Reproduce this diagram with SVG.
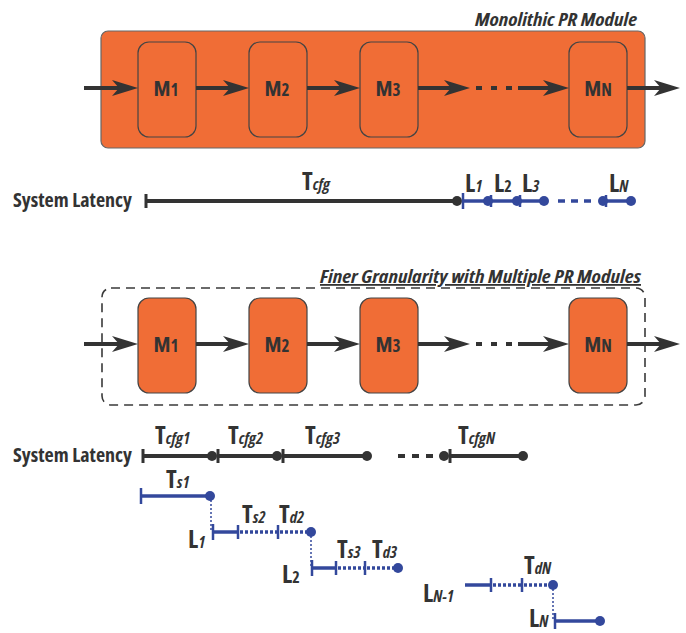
<svg xmlns="http://www.w3.org/2000/svg" width="686" height="633" viewBox="0 0 686 633">
  <style>
    text { font-family: "Open Sans", "Liberation Sans", sans-serif; font-weight: bold; fill: #333333; font-stretch: condensed; }
    .title { font-size: 18px; font-style: italic; }
    .sys { font-size: 20px; }
    .big { font-size: 25px; }
    .sub { font-size: 16px; font-style: italic; }
    .subu { font-size: 16px; font-style: normal; }
    .mod { font-size: 22px; font-stretch: semi-condensed; }
    .modsub { font-size: 17px; }
    .pr { fill: #F06D36; stroke: #444444; stroke-width: 1.2; }
    .frame { fill: #F06D36; stroke: #666666; stroke-width: 1.2; }
    .dash { fill: none; stroke: #3a3a3a; stroke-width: 1.6; stroke-dasharray: 9 6; }
    .flow { stroke: #333333; stroke-width: 4.2; fill: none; }
    .flowdash { stroke: #333333; stroke-width: 4.2; stroke-dasharray: 6 9; fill: none; }
    .blk { stroke: #333333; stroke-width: 4; fill: none; }
    .blkdash { stroke: #333333; stroke-width: 4; stroke-dasharray: 7 7; fill: none; }
    .tick { stroke: #333333; stroke-width: 3; }
    .dot { fill: #333333; }
    .bl { stroke: #33489C; stroke-width: 3.5; fill: none; }
    .bldot { stroke: #33489C; stroke-width: 3.5; stroke-dasharray: 3 2; fill: none; }
    .bldash { stroke: #33489C; stroke-width: 3.5; stroke-dasharray: 7 6; fill: none; }
    .blv { stroke: #33489C; stroke-width: 1.5; stroke-dasharray: 2 2; fill: none; }
    .btick { stroke: #33489C; stroke-width: 2.5; }
    .bdot { fill: #33489C; }
  </style>
  <defs>
    <marker id="head" viewBox="0 0 26 16" refX="14" refY="8" markerWidth="26" markerHeight="16" markerUnits="userSpaceOnUse" orient="auto">
      <path d="M0,0 L26,8 L0,16 L7,8 Z" fill="#333333"/>
    </marker>
  </defs>

  <!-- Monolithic PR module -->
  <g id="monolithic">
    <rect class="frame" x="101" y="31" width="544" height="117" rx="7"/>
    <text class="title" x="637" y="26" text-anchor="end" textLength="162" lengthAdjust="spacingAndGlyphs">Monolithic PR Module</text>
  </g>
  <g id="top-m1"><rect class="pr" x="138" y="42" width="58" height="95" rx="11"/><text class="mod" x="166" y="96" text-anchor="middle">M<tspan class="modsub">1</tspan></text></g>
  <g id="top-m2"><rect class="pr" x="249" y="42" width="58" height="95" rx="11"/><text class="mod" x="277" y="96" text-anchor="middle">M<tspan class="modsub">2</tspan></text></g>
  <g id="top-m3"><rect class="pr" x="360" y="42" width="58" height="95" rx="11"/><text class="mod" x="388" y="96" text-anchor="middle">M<tspan class="modsub">3</tspan></text></g>
  <g id="top-mn"><rect class="pr" x="569" y="42" width="58" height="95" rx="11"/><text class="mod" x="598" y="96" text-anchor="middle">M<tspan class="modsub">N</tspan></text></g>

  <g id="top-flow">
    <line class="flow" x1="84" y1="88" x2="126" y2="88" marker-end="url(#head)"/>
    <line class="flow" x1="196" y1="88" x2="237" y2="88" marker-end="url(#head)"/>
    <line class="flow" x1="307" y1="88" x2="348" y2="88" marker-end="url(#head)"/>
    <line class="flow" x1="418" y1="88" x2="458" y2="88" marker-end="url(#head)"/>
    <line class="flowdash" x1="476" y1="88" x2="513" y2="88"/>
    <line class="flow" x1="518" y1="88" x2="557" y2="88" marker-end="url(#head)"/>
    <line class="flow" x1="627" y1="88" x2="668" y2="88" marker-end="url(#head)"/>
  </g>

  <!-- Latency of the monolithic module -->
  <g id="top-latency">
    <text class="sys" x="13" y="207" textLength="119" lengthAdjust="spacingAndGlyphs">System Latency</text>
    <line class="tick" x1="146" y1="194" x2="146" y2="208"/>
    <line class="blk" x1="146" y1="201" x2="457" y2="201"/>
    <circle class="dot" cx="457" cy="201" r="5"/>
    <text class="big" x="302" y="190">T<tspan class="sub">cfg</tspan></text>

    <line class="btick" x1="463" y1="193" x2="463" y2="209"/>
    <line class="bl" x1="463" y1="201" x2="544" y2="201"/>
    <circle class="bdot" cx="488" cy="201" r="5"/>
    <line class="btick" x1="491" y1="195" x2="491" y2="207"/>
    <circle class="bdot" cx="517" cy="201" r="5"/>
    <line class="btick" x1="520" y1="195" x2="520" y2="207"/>
    <circle class="bdot" cx="544" cy="201" r="5"/>
    <line class="bldash" x1="558" y1="201" x2="593" y2="201"/>
    <circle class="bdot" cx="603" cy="201" r="5"/>
    <line class="btick" x1="606" y1="195" x2="606" y2="207"/>
    <line class="bl" x1="603" y1="201" x2="631" y2="201"/>
    <circle class="bdot" cx="631" cy="201" r="5"/>
    <text class="big" x="465" y="192">L<tspan class="sub">1</tspan></text>
    <text class="big" x="494" y="192">L<tspan class="subu">2</tspan></text>
    <text class="big" x="522" y="192">L<tspan class="sub">3</tspan></text>
    <text class="big" x="609" y="192">L<tspan class="sub">N</tspan></text>
  </g>

  <!-- Multiple PR modules -->
  <g id="multiple">
    <rect class="dash" x="102" y="288" width="543" height="117" rx="9"/>
    <text class="title" x="641" y="283" text-anchor="end" text-decoration="underline" textLength="321" lengthAdjust="spacingAndGlyphs">Finer Granularity with Multiple PR Modules</text>
  </g>
  <g id="bot-m1"><rect class="pr" x="138" y="298" width="58" height="95" rx="11"/><text class="mod" x="166" y="352" text-anchor="middle">M<tspan class="modsub">1</tspan></text></g>
  <g id="bot-m2"><rect class="pr" x="249" y="298" width="58" height="95" rx="11"/><text class="mod" x="277" y="352" text-anchor="middle">M<tspan class="modsub">2</tspan></text></g>
  <g id="bot-m3"><rect class="pr" x="360" y="298" width="58" height="95" rx="11"/><text class="mod" x="388" y="352" text-anchor="middle">M<tspan class="modsub">3</tspan></text></g>
  <g id="bot-mn"><rect class="pr" x="569" y="298" width="58" height="95" rx="11"/><text class="mod" x="598" y="352" text-anchor="middle">M<tspan class="modsub">N</tspan></text></g>

  <g id="bot-flow">
    <line class="flow" x1="84" y1="344" x2="126" y2="344" marker-end="url(#head)"/>
    <line class="flow" x1="196" y1="344" x2="237" y2="344" marker-end="url(#head)"/>
    <line class="flow" x1="307" y1="344" x2="348" y2="344" marker-end="url(#head)"/>
    <line class="flow" x1="418" y1="344" x2="458" y2="344" marker-end="url(#head)"/>
    <line class="flowdash" x1="476" y1="344" x2="513" y2="344"/>
    <line class="flow" x1="518" y1="344" x2="557" y2="344" marker-end="url(#head)"/>
    <line class="flow" x1="627" y1="344" x2="668" y2="344" marker-end="url(#head)"/>
  </g>

  <!-- Per-module configuration latency -->
  <g id="bot-latency">
    <text class="sys" x="13" y="462" textLength="119" lengthAdjust="spacingAndGlyphs">System Latency</text>
    <line class="tick" x1="143" y1="449" x2="143" y2="463"/>
    <line class="blk" x1="143" y1="456" x2="212" y2="456"/>
    <circle class="dot" cx="212" cy="456" r="5"/>
    <line class="tick" x1="218" y1="449" x2="218" y2="463"/>
    <line class="blk" x1="218" y1="456" x2="277" y2="456"/>
    <circle class="dot" cx="277" cy="456" r="5"/>
    <line class="tick" x1="283" y1="449" x2="283" y2="463"/>
    <line class="blk" x1="283" y1="456" x2="367" y2="456"/>
    <circle class="dot" cx="367" cy="456" r="5"/>
    <line class="blkdash" x1="398" y1="456" x2="434" y2="456"/>
    <circle class="dot" cx="444" cy="456" r="5"/>
    <line class="tick" x1="450" y1="449" x2="450" y2="463"/>
    <line class="blk" x1="450" y1="456" x2="523" y2="456"/>
    <circle class="dot" cx="523" cy="456" r="5"/>
    <text class="big" x="155" y="444">T<tspan class="sub">cfg1</tspan></text>
    <text class="big" x="228" y="444">T<tspan class="sub">cfg2</tspan></text>
    <text class="big" x="305" y="444">T<tspan class="sub">cfg3</tspan></text>
    <text class="big" x="458" y="444">T<tspan class="sub">cfgN</tspan></text>
  </g>

  <g id="stagger">
    <!-- first module -->
    <line class="btick" x1="141" y1="488" x2="141" y2="504"/>
    <line class="bl" x1="141" y1="496" x2="210" y2="496"/>
    <circle class="bdot" cx="210" cy="496" r="5"/>
    <text class="big" x="166" y="488">T<tspan class="sub">s1</tspan></text>
    <line class="blv" x1="211" y1="500" x2="211" y2="532"/>

    <!-- second module -->
    <line class="btick" x1="213" y1="524" x2="213" y2="540"/>
    <line class="bl" x1="213" y1="532" x2="238" y2="532"/>
    <line class="btick" x1="238" y1="525" x2="238" y2="539"/>
    <line class="bldot" x1="240" y1="532" x2="278" y2="532"/>
    <line class="btick" x1="278" y1="525" x2="278" y2="539"/>
    <line class="bldot" x1="280" y1="532" x2="311" y2="532"/>
    <circle class="bdot" cx="311" cy="532" r="5"/>
    <text class="big" x="188" y="548">L<tspan class="sub">1</tspan></text>
    <text class="big" x="242" y="523">T<tspan class="sub">s2</tspan></text>
    <text class="big" x="279" y="523">T<tspan class="sub">d2</tspan></text>
    <line class="blv" x1="311" y1="536" x2="311" y2="568"/>

    <!-- third module -->
    <line class="btick" x1="312" y1="560" x2="312" y2="576"/>
    <line class="bl" x1="312" y1="568" x2="336" y2="568"/>
    <line class="btick" x1="336" y1="561" x2="336" y2="575"/>
    <line class="bldot" x1="338" y1="568" x2="365" y2="568"/>
    <line class="btick" x1="365" y1="561" x2="365" y2="575"/>
    <line class="bldot" x1="367" y1="568" x2="398" y2="568"/>
    <circle class="bdot" cx="398" cy="568" r="5"/>
    <text class="big" x="282" y="583">L<tspan class="subu">2</tspan></text>
    <text class="big" x="337" y="558">T<tspan class="sub">s3</tspan></text>
    <text class="big" x="372" y="558">T<tspan class="sub">d3</tspan></text>

    <!-- module N-1 to N -->
    <line class="bl" x1="465" y1="585" x2="491" y2="585"/>
    <line class="btick" x1="491" y1="578" x2="491" y2="592"/>
    <line class="bldot" x1="493" y1="585" x2="522" y2="585"/>
    <line class="btick" x1="522" y1="578" x2="522" y2="592"/>
    <line class="bldot" x1="524" y1="585" x2="553" y2="585"/>
    <circle class="bdot" cx="553" cy="585" r="5"/>
    <text class="big" x="423" y="602">L<tspan class="sub">N-1</tspan></text>
    <text class="big" x="524" y="574">T<tspan class="sub">dN</tspan></text>
    <line class="blv" x1="553" y1="589" x2="553" y2="621"/>

    <line class="btick" x1="555" y1="613" x2="555" y2="629"/>
    <line class="bl" x1="555" y1="621" x2="600" y2="621"/>
    <circle class="bdot" cx="600" cy="621" r="5"/>
    <text class="big" x="529" y="627">L<tspan class="sub">N</tspan></text>
  </g>
</svg>
